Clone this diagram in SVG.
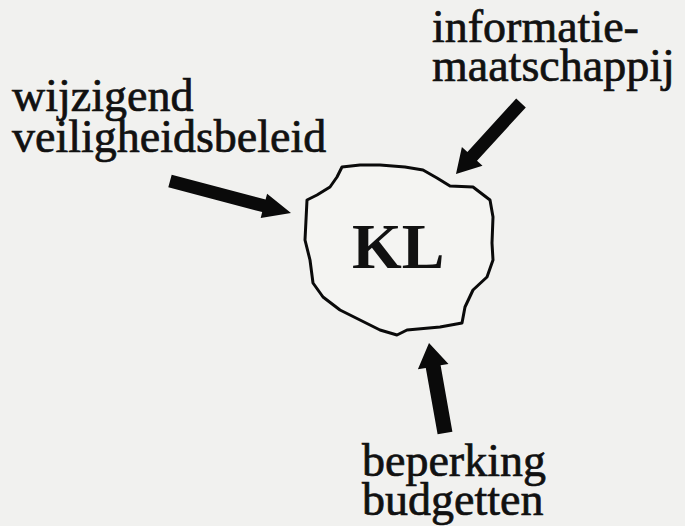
<svg xmlns="http://www.w3.org/2000/svg" width="685" height="526" viewBox="0 0 685 526">
<style>
.lbl{font-family:"Liberation Serif","Times New Roman",serif;font-size:46px;fill:#111;stroke:#111;stroke-width:0.7}
.arrow{fill:#0a0a0a}
</style>
<rect width="685" height="526" fill="#f1f1ef"/>
<g id="kl">
<path d="M342,167 L360,165 L380,165 L405,167 L423,170 L437,178 L450,186 L473,187 L490,200 L493,217 L492,243 L493,260 L487,277 L473,290 L465,307 L462,323 L440,327 L407,330 L397,335 L380,330 L360,320 L340,310 L323,297 L313,283 L310,260 L305,240 L307,200 L317,195 L330,187 L337,177 Z" fill="#f4f4f2" stroke="#0a0a0a" stroke-width="3" stroke-linejoin="round"/>
<text x="352" y="268" font-family="'Liberation Serif','Times New Roman',serif" font-size="64" font-weight="bold" fill="#111">KL</text>
</g>
<g id="wijzigend">
<text class="lbl" x="12" y="111">wijzigend</text>
<text class="lbl" x="12" y="152">veiligheidsbeleid</text>
</g>
<g id="informatie">
<text class="lbl" x="432" y="42">informatie-</text>
<text class="lbl" x="432" y="81">maatschappij</text>
</g>
<g id="beperking">
<text class="lbl" x="362" y="476">beperking</text>
<text class="lbl" x="362" y="515">budgetten</text>
</g>
<g id="connectors">
<polygon class="arrow" points="171.7,174.7 265.6,199.5 267.1,193.7 291,213 260.7,217.9 262.2,212.1 168.3,187.3"/>
<polygon class="arrow" points="516.2,98.6 467.4,151.9 461.9,146.9 456,174 482.5,165.8 477,160.7 525.8,107.4"/>
<polygon class="arrow" points="437.6,434.3 425.8,367.9 417.9,369.3 429,343 448.5,363.9 440.6,365.3 452.4,431.7"/>
</g>
</svg>
